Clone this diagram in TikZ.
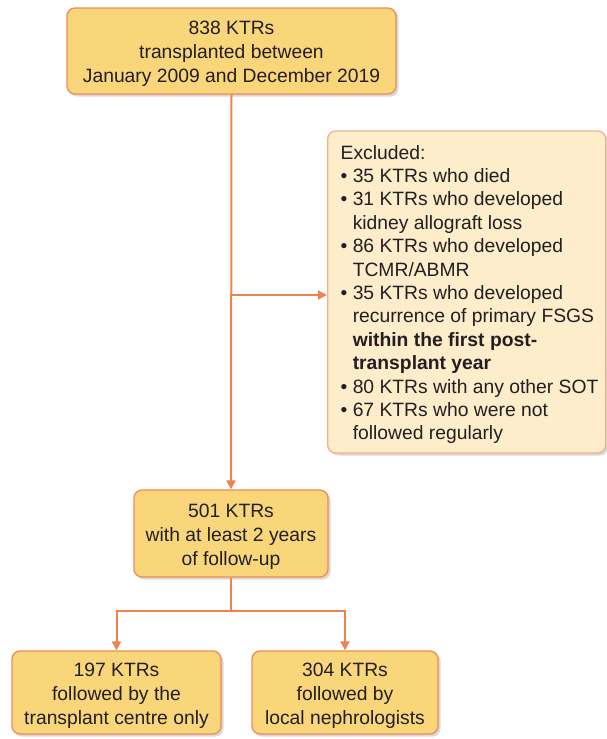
\documentclass[tikz,border=0pt]{standalone}
\usepackage{fontspec}
\setmainfont{Liberation Sans}
\usetikzlibrary{arrows.meta,shadows,calc}
\definecolor{boxfill}{HTML}{F9D67A}
\definecolor{boxdraw}{HTML}{EF8A5A}
\definecolor{exfill}{HTML}{FDEDCA}
\definecolor{exdraw}{HTML}{F3B286}
\definecolor{linecol}{HTML}{EE8250}
\definecolor{txt}{HTML}{231F20}
\tikzset{
  mainbox/.style={draw=boxdraw, fill=boxfill, line width=1.3pt, rounded corners=8pt,
    align=center, inner sep=0pt, text=txt,
    font=\fontsize{19.3}{24}\selectfont,
    drop shadow={opacity=0.25, shadow xshift=2.5pt, shadow yshift=-2.5pt, fill=black!60}},
  exbox/.style={draw=exdraw, fill=exfill, line width=1.3pt, rounded corners=8pt,
    inner sep=0pt, text=txt,
    font=\fontsize{19.3}{23.4}\selectfont,
    drop shadow={opacity=0.25, shadow xshift=2.5pt, shadow yshift=-2.5pt, fill=black!60}},
  conn/.style={draw=linecol, line width=2pt},
  arr/.style={conn, -{Triangle[length=9pt,width=9pt]}}
}
\newcommand{\bl}{\textbullet\ }
\newcommand{\ind}{\phantom{\textbullet\ }}
\newcommand{\up}{\rule{0pt}{20pt}}
\begin{document}
\begin{tikzpicture}[x=1pt,y=1pt]
\useasboundingbox (0,0) rectangle (606,-739);
\node[mainbox, minimum width=329pt, minimum height=86pt] (top) at (231.5,-51)
  {\up 838 KTRs\\transplanted between\\January 2009 and December 2019};
\node[exbox, minimum width=278pt, minimum height=322pt, anchor=west] (ex) at (327,-292)
  {\hspace*{12pt}\begin{minipage}{264pt}\raggedright
  \rule{0pt}{19pt}Excluded:\\
  \bl 35 KTRs who died\\
  \bl 31 KTRs who developed\\
  \ind kidney allograft loss\\
  \bl 86 KTRs who developed\\
  \ind TCMR/ABMR\\
  \bl 35 KTRs who developed\\
  \ind recurrence of primary FSGS\\
  \ind\textbf{within the first post-}\\
  \ind\textbf{transplant year}\\
  \bl 80 KTRs with any other SOT\\
  \bl 67 KTRs who were not\\
  \ind followed regularly
  \end{minipage}};
\node[mainbox, minimum width=194pt, minimum height=87pt] (mid) at (231,-533.5)
  {\up 501 KTRs\\with at least 2 years\\of follow-up};
\node[mainbox, minimum width=209pt, minimum height=83pt] (bl) at (116.5,-692.5)
  {\up 197 KTRs\\followed by the\\transplant centre only};
\node[mainbox, minimum width=186pt, minimum height=83pt] (br) at (345,-692.5)
  {\up 304 KTRs\\followed by\\local nephrologists};
\coordinate (j1) at (top.south |- 0,-295);
\coordinate (j2) at (mid.south |- 0,-611);
\draw[arr] (top.south) -- (mid.north);
\draw[arr] (j1) -- (j1 -| ex.west);
\draw[conn] (mid.south) -- (j2);
\draw[arr] (j2) -| (bl.north);
\draw[arr] (j2) -| (br.north);
\end{tikzpicture}
\end{document}
